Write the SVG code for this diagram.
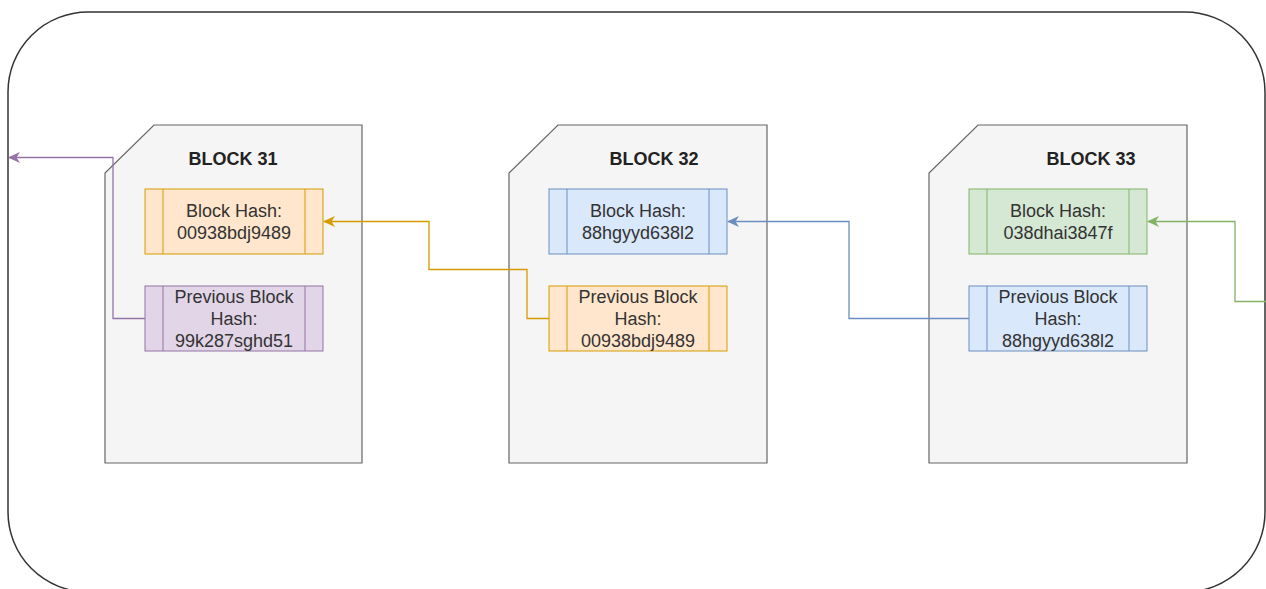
<svg xmlns="http://www.w3.org/2000/svg" width="1266" height="589" viewBox="0 0 1266 589">
  <style>
    .frame { fill: #ffffff; stroke: #333333; stroke-width: 1.5; }
    .block { fill: #f5f5f5; stroke: #666666; stroke-width: 1.2; }
    .title { font-family: "Liberation Sans", Arial, sans-serif; font-size: 18px; font-weight: bold; fill: #222222; text-anchor: middle; }
    .label { font-family: "Liberation Sans", Arial, sans-serif; font-size: 18px; fill: #333333; text-anchor: middle; }
    .orange { fill: #ffe6cc; stroke: #d79b00; }
    .purple { fill: #e1d5e7; stroke: #9673a6; }
    .blue { fill: #dae8fc; stroke: #6c8ebf; }
    .green { fill: #d5e8d4; stroke: #82b366; }
    .link { fill: none; stroke-width: 1.3; }
  </style>
  <defs>
    <marker id="arrPurple" viewBox="0 0 12 12" refX="11" refY="6" markerWidth="12" markerHeight="12" markerUnits="userSpaceOnUse" orient="auto">
      <path d="M0,0.5 L12,6 L0,11.5 L3.5,6 Z" fill="#9673a6"/>
    </marker>
    <marker id="arrOrange" viewBox="0 0 12 12" refX="11" refY="6" markerWidth="12" markerHeight="12" markerUnits="userSpaceOnUse" orient="auto">
      <path d="M0,0.5 L12,6 L0,11.5 L3.5,6 Z" fill="#d79b00"/>
    </marker>
    <marker id="arrBlue" viewBox="0 0 12 12" refX="11" refY="6" markerWidth="12" markerHeight="12" markerUnits="userSpaceOnUse" orient="auto">
      <path d="M0,0.5 L12,6 L0,11.5 L3.5,6 Z" fill="#6c8ebf"/>
    </marker>
    <marker id="arrGreen" viewBox="0 0 12 12" refX="11" refY="6" markerWidth="12" markerHeight="12" markerUnits="userSpaceOnUse" orient="auto">
      <path d="M0,0.5 L12,6 L0,11.5 L3.5,6 Z" fill="#82b366"/>
    </marker>
  </defs>

  <rect width="1266" height="589" fill="#ffffff"/>

  <!-- chain container -->
  <g id="chain">
    <rect class="frame" x="8" y="12" width="1257" height="580" rx="80" ry="80"/>
  </g>

  <!-- Block 31 -->
  <g id="block31">
    <path class="block" d="M154,125 H362 V463 H105 V173 Z"/>
    <text class="title" x="233" y="165">BLOCK 31</text>
    <g id="block31-hash">
      <rect class="orange" x="145" y="189" width="178" height="65"/>
      <line class="orange" x1="163" y1="189" x2="163" y2="254"/>
      <line class="orange" x1="305" y1="189" x2="305" y2="254"/>
      <text class="label" x="234" y="217">Block Hash:</text>
      <text class="label" x="234" y="239">00938bdj9489</text>
    </g>
    <g id="block31-prev">
      <rect class="purple" x="145" y="286" width="178" height="65"/>
      <line class="purple" x1="163" y1="286" x2="163" y2="351"/>
      <line class="purple" x1="305" y1="286" x2="305" y2="351"/>
      <text class="label" x="234" y="303">Previous Block</text>
      <text class="label" x="234" y="325">Hash:</text>
      <text class="label" x="234" y="347">99k287sghd51</text>
    </g>
  </g>

  <!-- Block 32 -->
  <g id="block32">
    <path class="block" d="M558,125 H767 V463 H509 V173 Z"/>
    <text class="title" x="654" y="165">BLOCK 32</text>
    <g id="block32-hash">
      <rect class="blue" x="549" y="189" width="178" height="65"/>
      <line class="blue" x1="567" y1="189" x2="567" y2="254"/>
      <line class="blue" x1="709" y1="189" x2="709" y2="254"/>
      <text class="label" x="638" y="217">Block Hash:</text>
      <text class="label" x="638" y="239">88hgyyd638l2</text>
    </g>
    <g id="block32-prev">
      <rect class="orange" x="549" y="286" width="178" height="65"/>
      <line class="orange" x1="567" y1="286" x2="567" y2="351"/>
      <line class="orange" x1="709" y1="286" x2="709" y2="351"/>
      <text class="label" x="638" y="303">Previous Block</text>
      <text class="label" x="638" y="325">Hash:</text>
      <text class="label" x="638" y="347">00938bdj9489</text>
    </g>
  </g>

  <!-- Block 33 -->
  <g id="block33">
    <path class="block" d="M978,125 H1187 V463 H929 V173 Z"/>
    <text class="title" x="1091" y="165">BLOCK 33</text>
    <g id="block33-hash">
      <rect class="green" x="969" y="189" width="178" height="65"/>
      <line class="green" x1="987" y1="189" x2="987" y2="254"/>
      <line class="green" x1="1129" y1="189" x2="1129" y2="254"/>
      <text class="label" x="1058" y="217">Block Hash:</text>
      <text class="label" x="1058" y="239">038dhai3847f</text>
    </g>
    <g id="block33-prev">
      <rect class="blue" x="969" y="286" width="178" height="65"/>
      <line class="blue" x1="987" y1="286" x2="987" y2="351"/>
      <line class="blue" x1="1129" y1="286" x2="1129" y2="351"/>
      <text class="label" x="1058" y="303">Previous Block</text>
      <text class="label" x="1058" y="325">Hash:</text>
      <text class="label" x="1058" y="347">88hgyyd638l2</text>
    </g>
  </g>

  <!-- hash links -->
  <g id="connectors">
    <path class="link" stroke="#9673a6" marker-end="url(#arrPurple)" d="M145,318.5 H113 V157.5 H9"/>
    <path class="link" stroke="#d79b00" marker-end="url(#arrOrange)" d="M549,318.5 H527 V269.5 H429 V221.5 H324"/>
    <path class="link" stroke="#6c8ebf" marker-end="url(#arrBlue)" d="M969,318.5 H849 V221.5 H728"/>
    <path class="link" stroke="#82b366" marker-end="url(#arrGreen)" d="M1266,301.5 H1235 V221.5 H1148"/>
  </g>
</svg>
